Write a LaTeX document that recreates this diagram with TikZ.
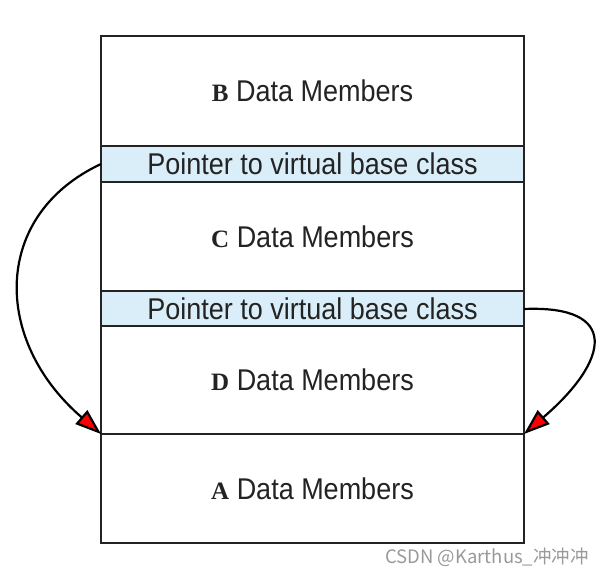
\documentclass[tikz,border=0pt]{standalone}
\usepackage{fontspec}
\usetikzlibrary{arrows.meta}
\newfontfamily\condfont[FakeStretch=0.9]{Liberation Sans}
\newfontfamily\serifcap{Liberation Serif}
\newfontfamily\cjkfont{Noto Sans CJK SC}
\definecolor{ptrblue}{RGB}{218,238,249}
\definecolor{linegray}{RGB}{35,35,35}
\definecolor{txtgray}{RGB}{35,35,35}
\tikzset{
  rowbox/.style={draw=linegray, line width=2.8pt, fill=white, inner sep=0pt},
  ptrbox/.style={draw=linegray, line width=2.8pt, fill=ptrblue, inner sep=0pt},
  lbl/.style={text=txtgray, font=\condfont\fontsize{30}{34}\selectfont, inner sep=0pt},
  vptr/.style={draw=black, line width=2.2pt, -{Triangle[length=26pt,width=18pt,fill=red]}}
}
\newcommand{\cls}[1]{{\serifcap\bfseries\fontsize{25}{28}\selectfont #1}}
\begin{document}
\begin{tikzpicture}[x=1pt,y=-1pt]
\useasboundingbox (0,0) rectangle (606,578);
% rows
\draw[rowbox] (101,36) rectangle (524,146);
\draw[ptrbox] (101,146) rectangle (524,182);
\draw[rowbox] (101,182) rectangle (524,291);
\draw[ptrbox] (101,291) rectangle (524,326);
\draw[rowbox] (101,326) rectangle (524,434);
\draw[rowbox] (101,434) rectangle (524,543);
% labels
\node[lbl] (b) at (312.5,91) {\cls{B} Data Members};
\node[lbl] (p1) at (312.5,164) {Pointer to virtual base class};
\node[lbl] (c) at (312.5,236.5) {\cls{C} Data Members};
\node[lbl] (p2) at (312.5,308.5) {Pointer to virtual base class};
\node[lbl] (d) at (312.5,380) {\cls{D} Data Members};
\node[lbl] (a) at (312.5,488.5) {\cls{A} Data Members};
% anchor points
\coordinate (p1w) at (101,164);
\coordinate (p2e) at (524,309);
\coordinate (aNW) at (101,434);
\coordinate (aNE) at (524,434);
% connectors
\draw[vptr] (p1w) .. controls (-8,215) and (-8,340) .. (aNW);
\draw[vptr] (p2e) .. controls (620,305) and (610,360) .. (aNE);
% watermark
\node[anchor=west, text=gray!80, font=\cjkfont\fontsize{18.5}{22}\selectfont, inner sep=0pt] (wm) at (385,557) {CSDN @Karthus\_冲冲冲};
\end{tikzpicture}
\end{document}
